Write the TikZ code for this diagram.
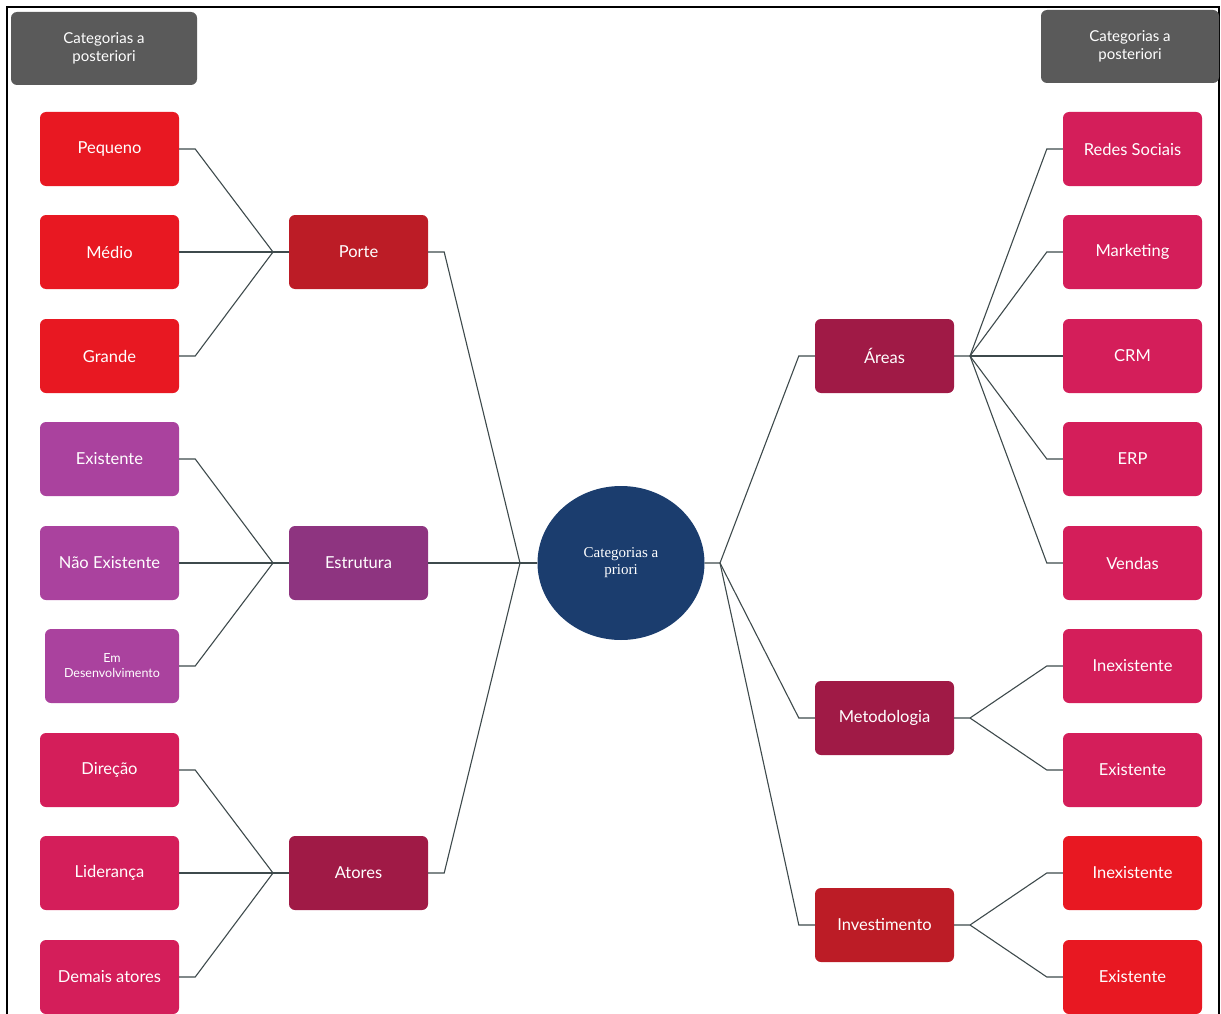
\documentclass[tikz,border=0pt]{standalone}
\usepackage{fontspec}
\setmainfont{Lato}
\newfontfamily\circfont{Liberation Serif}
\usetikzlibrary{shapes.geometric}

\definecolor{redL}{RGB}{232,24,34}
\definecolor{redD}{RGB}{188,28,38}
\definecolor{purL}{RGB}{170,66,158}
\definecolor{purD}{RGB}{142,52,128}
\definecolor{pinkL}{RGB}{212,30,90}
\definecolor{pinkD}{RGB}{160,26,70}
\definecolor{navy}{RGB}{27,61,110}
\definecolor{headgray}{RGB}{90,90,90}
\definecolor{linkgray}{RGB}{62,74,76}

\begin{document}
\begin{tikzpicture}[
    x=1pt, y=-1pt,
    box/.style={rectangle, rounded corners=6pt, minimum width=139pt, minimum height=74pt,
      inner sep=2pt, align=center, text=white, font=\fontsize{16.5}{19}\selectfont},
    head/.style={box, fill=headgray, minimum height=73pt, font=\fontsize{15}{18}\selectfont},
    link/.style={draw=linkgray, line width=1.1pt}
  ]
    \useasboundingbox (0,0) rectangle (1221,1014);
    % frame
    \draw[line width=1.2pt] (7,1014) -- (7,7) -- (1219,7) -- (1219,1014);

    % headers
    \node[head, minimum width=186pt] (headL) at (104,48.5) {Categorias a\\posteriori};
    \node[head, minimum width=178pt] (headR) at (1130,46.5) {Categorias a\\posteriori};

    % centre
    \node[ellipse, fill=navy, minimum width=167pt, minimum height=154pt, text=white,
      align=center, font=\circfont\fontsize{15}{17}\selectfont] (prio) at (621,563) {Categorias a\\priori};

    % left hubs
    \node[box, fill=redD] (porte) at (358.5,252) {Porte};
    \node[box, fill=purD] (estrutura) at (358.5,563) {Estrutura};
    \node[box, fill=pinkD] (atores) at (358.5,873) {Atores};

    % left leaves
    \node[box, fill=redL] (pequeno) at (109.5,149) {Pequeno};
    \node[box, fill=redL] (medio) at (109.5,252) {Médio};
    \node[box, fill=redL] (grande) at (109.5,356) {Grande};
    \node[box, fill=purL] (exist) at (109.5,459) {Existente};
    \node[box, fill=purL] (naoexist) at (109.5,563) {Não Existente};
    \node[box, fill=purL, minimum width=134pt, font=\fontsize{12.5}{15}\selectfont] (desenv) at (112,666) {Em\\Desenvolvimento};
    \node[box, fill=pinkL] (direcao) at (109.5,770) {Direção};
    \node[box, fill=pinkL] (lideranca) at (109.5,873) {Liderança};
    \node[box, fill=pinkL] (demais) at (109.5,977) {Demais atores};

    % right hubs
    \node[box, fill=pinkD] (areas) at (884.5,356) {Áreas};
    \node[box, fill=pinkD] (metodo) at (884.5,718) {Metodologia};
    \node[box, fill=redD] (invest) at (884.5,925) {Investimento};

    % right leaves
    \node[box, fill=pinkL] (redes) at (1132.5,149) {Redes Sociais};
    \node[box, fill=pinkL] (marketing) at (1132.5,252) {Marketing};
    \node[box, fill=pinkL] (crm) at (1132.5,356) {CRM};
    \node[box, fill=pinkL] (erp) at (1132.5,459) {ERP};
    \node[box, fill=pinkL] (vendas) at (1132.5,563) {Vendas};
    \node[box, fill=pinkL] (metinex) at (1132.5,666) {Inexistente};
    \node[box, fill=pinkL] (metexist) at (1132.5,770) {Existente};
    \node[box, fill=redL] (invinex) at (1132.5,873) {Inexistente};
    \node[box, fill=redL] (invexist) at (1132.5,977) {Existente};

    % junctions
    \coordinate (jporte) at (273,252);
    \coordinate (jestr) at (273,563);
    \coordinate (jatores) at (273,873);
    \coordinate (jprioL) at (520,563);
    \coordinate (jprioR) at (720,563);
    \coordinate (jareas) at (970,356);
    \coordinate (jmetodo) at (970,718);
    \coordinate (jinvest) at (970,925);

    % left links
    \draw[link] (pequeno.east) -- ([xshift=16pt]pequeno.east) -- (jporte) -- (porte.west);
    \draw[link] (medio.east) -- (porte.west);
    \draw[link] (grande.east) -- ([xshift=16pt]grande.east) -- (jporte);
    \draw[link] (exist.east) -- ([xshift=16pt]exist.east) -- (jestr) -- (estrutura.west);
    \draw[link] (naoexist.east) -- (estrutura.west);
    \draw[link] (desenv.east) -- ([xshift=16pt]desenv.east) -- (jestr);
    \draw[link] (direcao.east) -- ([xshift=16pt]direcao.east) -- (jatores) -- (atores.west);
    \draw[link] (lideranca.east) -- (atores.west);
    \draw[link] (demais.east) -- ([xshift=16pt]demais.east) -- (jatores);

    % hubs to centre
    \draw[link] (porte.east) -- ([xshift=16pt]porte.east) -- (jprioL) -- (prio.west);
    \draw[link] (estrutura.east) -- (prio.west);
    \draw[link] (atores.east) -- ([xshift=16pt]atores.east) -- (jprioL);
    \draw[link] (prio.east) -- (jprioR) -- ([xshift=-16pt]areas.west) -- (areas.west);
    \draw[link] (jprioR) -- ([xshift=-16pt]metodo.west) -- (metodo.west);
    \draw[link] (jprioR) -- ([xshift=-16pt]invest.west) -- (invest.west);

    % right links
    \draw[link] (areas.east) -- (jareas) -- ([xshift=-16pt]redes.west) -- (redes.west);
    \draw[link] (jareas) -- ([xshift=-16pt]marketing.west) -- (marketing.west);
    \draw[link] (jareas) -- (crm.west);
    \draw[link] (jareas) -- ([xshift=-16pt]erp.west) -- (erp.west);
    \draw[link] (jareas) -- ([xshift=-16pt]vendas.west) -- (vendas.west);
    \draw[link] (metodo.east) -- (jmetodo) -- ([xshift=-16pt]metinex.west) -- (metinex.west);
    \draw[link] (jmetodo) -- ([xshift=-16pt]metexist.west) -- (metexist.west);
    \draw[link] (invest.east) -- (jinvest) -- ([xshift=-16pt]invinex.west) -- (invinex.west);
    \draw[link] (jinvest) -- ([xshift=-16pt]invexist.west) -- (invexist.west);
\end{tikzpicture}
\end{document}
